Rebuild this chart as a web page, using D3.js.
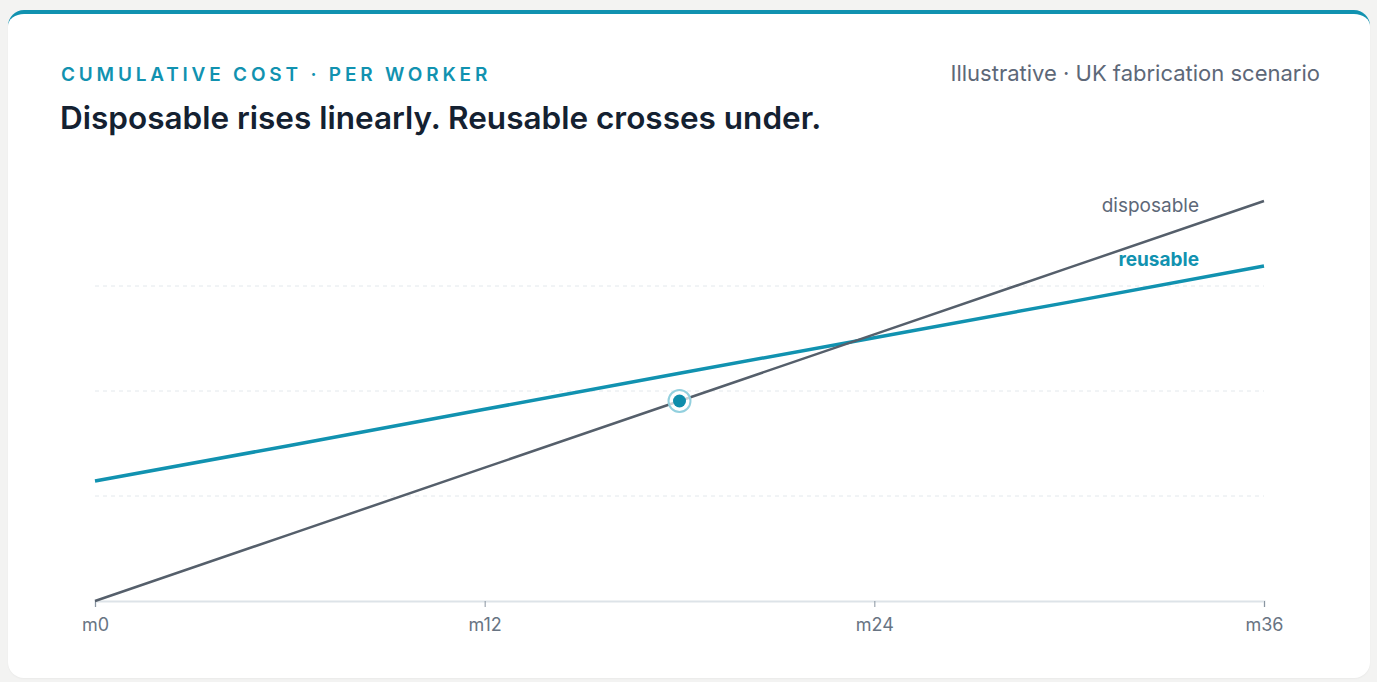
<!DOCTYPE html>
<html>
<head>
<meta charset="utf-8">
<script src="https://cdn.jsdelivr.net/npm/d3@7"></script>
<style>
  html, body { margin: 0; padding: 0; background: #f3f3f2; font-family: Inter, "Noto Sans", sans-serif; }
  .card {
    position: absolute; left: 8px; top: 10px; width: 1362px; height: 668px;
    background: #fff; border-radius: 16px; border-top: 4px solid #1192b0;
    box-sizing: border-box; box-shadow: 0 1px 2px rgba(0,0,0,0.04);
  }
  svg { position: absolute; left: 0; top: 0; }
</style>
</head>
<body>
<div class="card"></div>
<script>
// months and cumulative cost per worker (GBP, illustrative)
var months = [0, 6, 12, 18, 24, 30, 36];
var disposable = [0, 120, 240, 360, 480, 600, 720];
var reusable = [216, 280, 345, 410, 474, 538, 603];
var xTicks = [0, 12, 24, 36];
var xTickLabels = ["m0", "m12", "m24", "m36"];
var gridValues = [189, 378, 567];
var marker = {month: 18, value: 360};

var W = 1377, H = 682;
var margin = {top: 181, right: 113, bottom: 81, left: 95};

var svg = d3.select("body").append("svg")
    .attr("width", W)
    .attr("height", H);

svg.append("text")
    .attr("x", 61).attr("y", 81)
    .style("font-size", "19px").style("font-weight", 600)
    .style("letter-spacing", "3.8px")
    .attr("fill", "#1192b0")
    .text("CUMULATIVE COST · PER WORKER");

svg.append("text")
    .attr("x", 1320).attr("y", 81)
    .attr("text-anchor", "end")
    .style("font-size", "22px")
    .attr("fill", "#5d6878")
    .text("Illustrative · UK fabrication scenario");

svg.append("text")
    .attr("x", 60).attr("y", 129)
    .style("font-size", "31.5px").style("font-weight", 600)
    .attr("fill", "#142131")
    .text("Disposable rises linearly. Reusable crosses under.");

var x = d3.scaleLinear()
    .domain([0, 36])
    .range([margin.left, W - margin.right]);

var y = d3.scaleLinear()
    .domain([0, d3.max(disposable) * 1.05])
    .range([H - margin.bottom, margin.top]);

// dashed gridlines
svg.append("g")
    .selectAll("line")
    .data(gridValues)
    .enter()
    .append("line")
        .attr("x1", x(0)).attr("x2", x(36))
        .attr("y1", function(d) { return y(d); })
        .attr("y2", function(d) { return y(d); })
        .attr("stroke", "#e3e8ec")
        .attr("stroke-width", 1)
        .attr("stroke-dasharray", "4 4");

// x axis
var xAxis = svg.append("g")
    .attr("transform", "translate(0," + y(0) + ")")
    .call(d3.axisBottom(x)
        .tickValues(xTicks)
        .tickFormat(function(d, i) { return xTickLabels[i]; })
        .tickSize(6)
        .tickPadding(11));

xAxis.select(".domain")
    .attr("stroke", "#dde3e8")
    .attr("stroke-width", 2);
xAxis.selectAll(".tick line")
    .attr("stroke", "#8a95a1");
xAxis.selectAll(".tick text")
    .attr("fill", "#687483")
    .style("font-family", "Inter, sans-serif")
    .style("font-size", "18px");

var line = d3.line()
    .x(function(d, i) { return x(months[i]); })
    .y(function(d) { return y(d); });

svg.append("path")
    .datum(reusable)
    .attr("fill", "none")
    .attr("stroke", "#1192b0")
    .attr("stroke-width", 3.5)
    .attr("d", line);

svg.append("path")
    .datum(disposable)
    .attr("fill", "none")
    .attr("stroke", "#555f6b")
    .attr("stroke-width", 2.5)
    .attr("d", line);

// end labels
svg.append("text")
    .attr("x", x(36) - 65).attr("y", y(disposable[disposable.length - 1]) + 11)
    .attr("text-anchor", "end")
    .style("font-size", "19px")
    .attr("fill", "#5d6878")
    .text("disposable");

svg.append("text")
    .attr("x", x(36) - 65).attr("y", y(reusable[reusable.length - 1]))
    .attr("text-anchor", "end")
    .style("font-size", "19px").style("font-weight", 700)
    .attr("fill", "#1192b0")
    .text("reusable");

// highlight point
svg.append("circle")
    .attr("cx", x(marker.month)).attr("cy", y(marker.value))
    .attr("r", 11)
    .attr("fill", "#fff").attr("fill-opacity", 0.7)
    .attr("stroke", "#93d0de")
    .attr("stroke-width", 2);

svg.append("circle")
    .attr("cx", x(marker.month)).attr("cy", y(marker.value))
    .attr("r", 6.5)
    .attr("fill", "#0e8dab");
</script>
</body>
</html>
